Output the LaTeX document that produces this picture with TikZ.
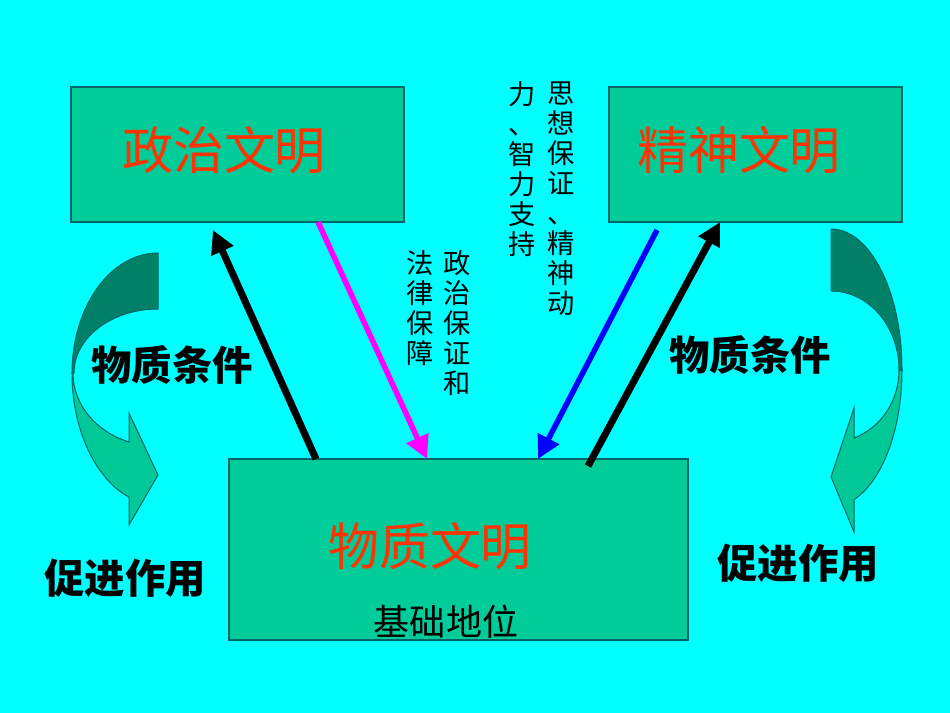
\documentclass[tikz,border=0pt]{standalone}
\usepackage{fontspec}
\setmainfont{Noto Sans CJK SC}
\usepackage{xcolor}
\definecolor{bgcyan}{RGB}{0,255,255}
\definecolor{boxgreen}{RGB}{0,204,153}
\definecolor{boxedge}{RGB}{0,102,102}
\definecolor{titlered}{RGB}{255,51,0}
\definecolor{banddark}{RGB}{0,128,102}
\definecolor{bandlight}{RGB}{0,200,150}
\definecolor{lawpink}{RGB}{255,0,255}
\usetikzlibrary{arrows.meta,calc}

\begin{document}
\begin{tikzpicture}[x=0.2mm,y=-0.2mm,
  civbox/.style={draw=boxedge,fill=boxgreen,line width=0.3mm,inner sep=0pt,outer sep=0pt},
  civtitle/.style={text=titlered,font=\fontsize{29}{29}\selectfont,inner sep=0pt},
  cond/.style={font=\fontsize{23}{23}\selectfont\bfseries,inner sep=0pt},
  vtext/.style={font=\fontsize{15.5}{17.1}\selectfont,align=center,inner sep=0pt,anchor=north},
  push/.style={line width=1.4mm,-{Triangle[length=4.6mm,width=4.6mm]}},
  band/.style={draw=boxedge,line width=0.2mm}
]
  % background
  \fill[bgcyan] (0,0) rectangle (950,713);
  \useasboundingbox (0,0) rectangle (950,713);

  % boxes
  \node[civbox,minimum width=66.6mm,minimum height=27mm] (zz) at (237.5,154.5) {};
  \node[civtitle] (zzt) at (224,150) {政治文明};
  \node[civbox,minimum width=58.6mm,minimum height=27mm] (js) at (755.5,154.5) {};
  \node[civtitle] (jst) at (739,150) {精神文明};
  \node[civbox,minimum width=91.8mm,minimum height=36.2mm] (wz) at (458.5,549.5) {};
  \node[civtitle] (wzt) at (430,546) {物质文明};
  \node[font=\fontsize{20.5}{20.5}\selectfont,inner sep=0pt] (jc) at (446,622) {基础地位};

  % curved arrows, left
  \fill[banddark,band] (158,253) arc[start angle=-90,end angle=-180,x radius=86,y radius=120]
    -- (74,373) arc[start angle=180,end angle=270,x radius=84,y radius=64] -- cycle;
  \fill[bandlight,band] (72,373) arc[start angle=180,end angle=109.7,x radius=86,y radius=132]
    -- (129,525) -- (158,475) -- (129,413) -- (129,442)
    arc[start angle=110,end angle=180,x radius=85,y radius=73] -- cycle;

  % curved arrows, right
  \fill[banddark,band] (831,229) arc[start angle=-90,end angle=0,x radius=71,y radius=141]
    -- (899,370) arc[start angle=0,end angle=-90,x radius=68,y radius=79] -- cycle;
  \fill[bandlight,band] (902,370) arc[start angle=0,end angle=71.1,x radius=71,y radius=137]
    -- (854,532) -- (831,477) -- (854,408) -- (854,438)
    arc[start angle=70.2,end angle=0,x radius=68,y radius=72] -- cycle;

  % labels
  \node[cond] (wl) at (172,365) {物质条件};
  \node[cond] (wr) at (750,355) {物质条件};
  \node[cond] (cl) at (125,578) {促进作用};
  \node[cond] (cr) at (798,563) {促进作用};
  \node[vtext] (v1) at (457,250) {政\\治\\保\\证\\和};
  \node[vtext] (v2) at (420,250) {法\\律\\保\\障};
  \node[vtext] (v3) at (561,81) {思\\想\\保\\证\\、\\精\\神\\动};
  \node[vtext] (v4) at (522,81) {力\\、\\智\\力\\支\\持};

  % arrows between the boxes
  \coordinate (a1s) at ($(wz.north west)+(87,0)$);
  \coordinate (a1e) at ($(zz.south west)+(142,8)$);
  \coordinate (a2s) at ($(zz.south west)+(247,0)$);
  \coordinate (a2e) at ($(wz.north west)+(198,0)$);
  \coordinate (a3s) at ($(js.south west)+(48,8)$);
  \coordinate (a3e) at ($(wz.north west)+(309,0)$);
  \coordinate (a4s) at ($(wz.north west)+(359,7)$);
  \coordinate (a4e) at ($(js.south west)+(111,0)$);
  \draw[push] (a1s) -- (a1e);
  \draw[push,lawpink,line width=1.1mm] (a2s) -- (a2e);
  \draw[push,blue,line width=1.1mm] (a3s) -- (a3e);
  \draw[push] (a4s) -- (a4e);
\end{tikzpicture}
\end{document}
